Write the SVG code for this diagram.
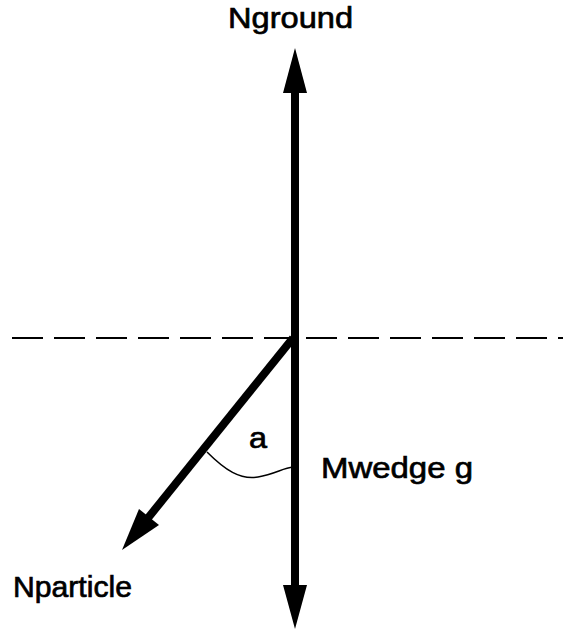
<svg xmlns="http://www.w3.org/2000/svg" width="563" height="630" viewBox="0 0 563 630">
<style>
text{font-family:"Liberation Sans",Arial,sans-serif;font-size:30px;fill:#000;stroke:#000;stroke-width:0.7}
.thick{stroke:#000;stroke-width:8;fill:none}
</style>
<rect width="563" height="630" fill="#fff"/>
<g id="connectors">
<line x1="12" y1="338" x2="563" y2="338" stroke="#000" stroke-width="2" stroke-dasharray="31 11"/>
<line class="thick" x1="295" y1="90" x2="295" y2="588"/>
<polygon points="295,48 283,93 307,93" fill="#000"/>
<polygon points="295,629 283,585 307,585" fill="#000"/>
<line class="thick" x1="293" y1="338" x2="148" y2="518"/>
<polygon points="122,550 139,509 159,525" fill="#000"/>
<path d="M207,452 C225,470 240,480 258,477 C275,474 283,468 293,467" stroke="#000" stroke-width="1.5" fill="none"/>
</g>
<g id="nground"><text x="228" y="28" textLength="125" lengthAdjust="spacingAndGlyphs">Nground</text></g>
<g id="mwedge"><text x="321" y="478" textLength="152" lengthAdjust="spacingAndGlyphs">Mwedge g</text></g>
<g id="nparticle"><text x="13" y="597" textLength="119" lengthAdjust="spacingAndGlyphs">Nparticle</text></g>
<g id="angle"><text x="249" y="448" font-size="32" textLength="18" lengthAdjust="spacingAndGlyphs">a</text></g>
</svg>
